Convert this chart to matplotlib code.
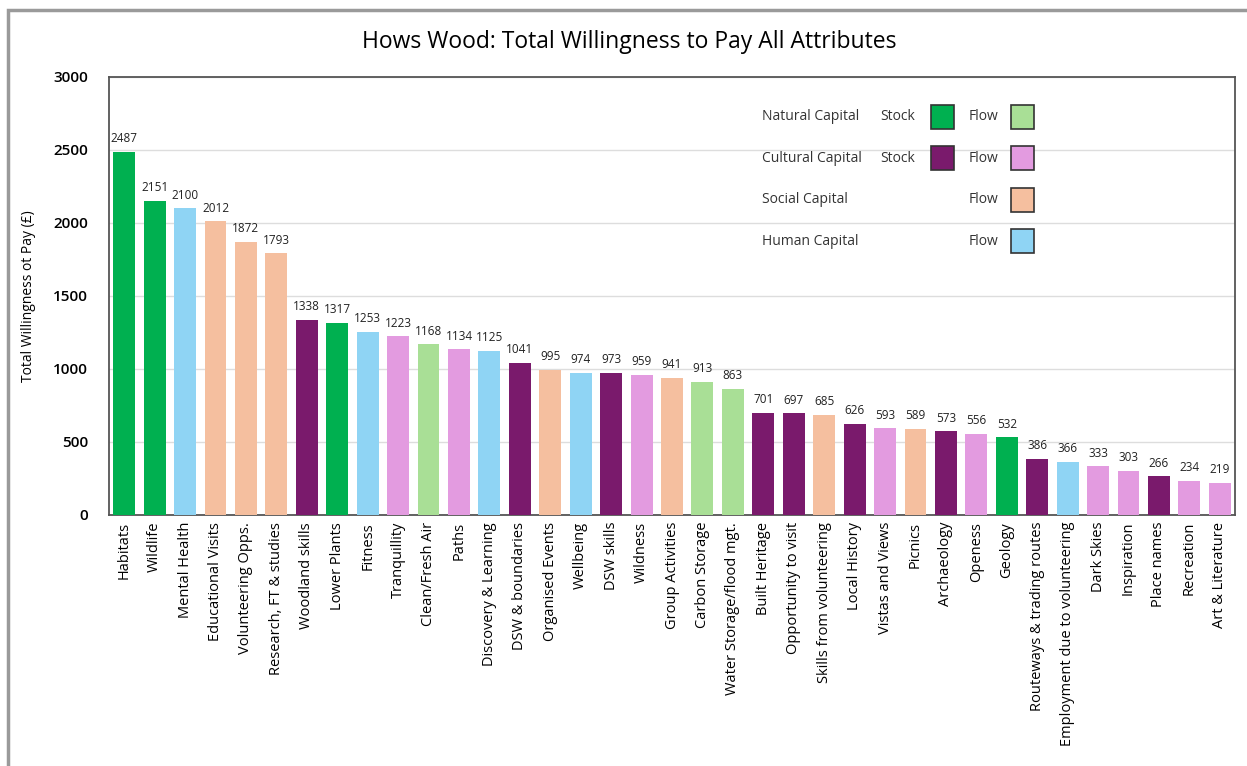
import matplotlib.pyplot as plt
from matplotlib.patches import Rectangle

attributes = [
    'Habitats', 'Wildlife', 'Mental Health', 'Educational Visits', 'Volunteering Opps.',
    'Research, FT & studies', 'Woodland skills', 'Lower Plants', 'Fitness', 'Tranquillity',
    'Clean/Fresh Air', 'Paths', 'Discovery & Learning', 'DSW & boundaries', 'Organised Events',
    'Wellbeing', 'DSW skills', 'Wildness', 'Group Activities', 'Carbon Storage',
    'Water Storage/flood mgt.', 'Built Heritage', 'Opportunity to visit', 'Skills from volunteering',
    'Local History', 'Vistas and Views', 'Picnics', 'Archaeology', 'Openess', 'Geology',
    'Routeways & trading routes', 'Employment due to volunteering', 'Dark Skies', 'Inspiration',
    'Place names', 'Recreation', 'Art & Literature',
]
wtp = [2487, 2151, 2100, 2012, 1872, 1793, 1338, 1317, 1253, 1223, 1168, 1134, 1125, 1041,
       995, 974, 973, 959, 941, 913, 863, 701, 697, 685, 626, 593, 589, 573, 556, 532,
       386, 366, 333, 303, 266, 234, 219]
# capital type of each attribute
capital = ['nat_s', 'nat_s', 'hum', 'soc', 'soc', 'soc', 'cul_s', 'nat_s', 'hum', 'cul_f',
           'nat_f', 'cul_f', 'hum', 'cul_s', 'soc', 'hum', 'cul_s', 'cul_f', 'soc', 'nat_f',
           'nat_f', 'cul_s', 'cul_s', 'soc', 'cul_s', 'cul_f', 'soc', 'cul_s', 'cul_f', 'nat_s',
           'cul_s', 'hum', 'cul_f', 'cul_f', 'cul_s', 'cul_f', 'cul_f']

palette = {
    'nat_s': '#00b050', 'nat_f': '#a9df96',
    'cul_s': '#7a1a6c', 'cul_f': '#e39be0',
    'soc': '#f5bf9f', 'hum': '#8fd4f4',
}

plt.rcParams['font.family'] = ['Open Sans', 'DejaVu Sans']

fig = plt.figure(figsize=(12.47, 7.66), dpi=100)
ax = fig.add_axes([0.0874, 0.3277, 0.903, 0.5718])

x = range(len(attributes))
ax.bar(x, wtp, width=0.72, color=[palette[c] for c in capital], zorder=3)
for i, v in enumerate(wtp):
    ax.text(i, v + 45, str(v), ha='center', va='bottom', fontsize=8.5, color='#222222')

ax.set_xlim(-0.5, len(attributes) - 0.5)
ax.set_ylim(0, 3000)
ax.set_yticks(range(0, 3001, 500))
ax.tick_params(axis='y', length=0, labelsize=11, pad=15)
ax.tick_params(axis='x', length=0, labelsize=10.5, pad=5)
for lbl in ax.get_yticklabels():
    lbl.set_fontweight('semibold')
ax.set_xticks(list(x))
ax.set_xticklabels(attributes, rotation=90)
ax.grid(axis='y', color='#dddddd', linewidth=1, zorder=0)
for s in ax.spines.values():
    s.set_color('#555555')
    s.set_linewidth(1.3)

ax.set_ylabel('Total Willingness ot Pay (£)', fontsize=10, labelpad=12)
fig.text(0.505, 0.945, 'Hows Wood: Total Willingness to Pay All Attributes',
         ha='center', va='center', fontsize=16.5)

# key drawn as text and boxes in the upper right
rows = [
    ('Natural Capital', 'nat_s', 'nat_f'),
    ('Cultural Capital', 'cul_s', 'cul_f'),
    ('Social Capital', None, 'soc'),
    ('Human Capital', None, 'hum'),
]
px2ax_x = lambda p: (p - 109) / 1126
px2ax_y = lambda p: (515 - p) / 438
for k, (name, stock, flow) in enumerate(rows):
    yc = 117 + k * 41.5
    ya = px2ax_y(yc)
    ax.text(px2ax_x(762), ya, name, ha='left', va='center', fontsize=10,
            color='#333333', transform=ax.transAxes)
    if stock:
        ax.text(px2ax_x(880), ya, 'Stock', ha='left', va='center', fontsize=10,
                color='#333333', transform=ax.transAxes)
        ax.add_patch(Rectangle((px2ax_x(931), px2ax_y(yc + 12)), 23 / 1126, 24 / 438,
                               transform=ax.transAxes, facecolor=palette[stock],
                               edgecolor='#333333', linewidth=1.2, zorder=5))
    ax.text(px2ax_x(969), ya, 'Flow', ha='left', va='center', fontsize=10,
            color='#333333', transform=ax.transAxes)
    ax.add_patch(Rectangle((px2ax_x(1011), px2ax_y(yc + 12)), 23 / 1126, 24 / 438,
                           transform=ax.transAxes, facecolor=palette[flow],
                           edgecolor='#333333', linewidth=1.2, zorder=5))

# outer chart frame
fig.add_artist(Rectangle((8 / 1247, -0.05), 1.2, 1 - 10 / 766 + 0.05,
                         transform=fig.transFigure, fill=False,
                         edgecolor='#9a9a9a', linewidth=2.5))

fig.savefig('out.png', dpi=100)
